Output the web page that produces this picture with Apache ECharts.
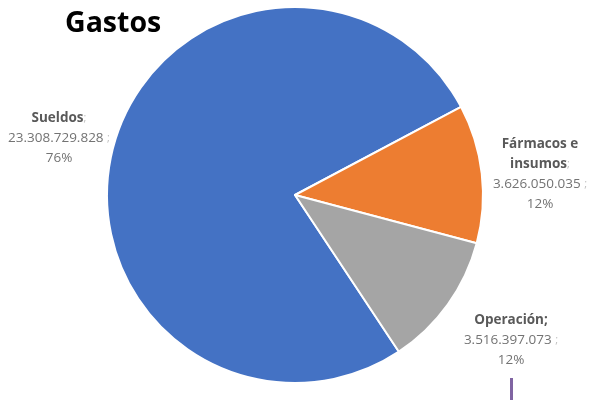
<!DOCTYPE html>
<html>
<head>
<meta charset="utf-8">
<script src="https://cdn.jsdelivr.net/npm/echarts@6/dist/echarts.min.js"></script>
<style>
html,body{margin:0;padding:0;background:#fff;}
#chart{width:594px;height:403px;}
</style>
</head>
<body>
<div id="chart"></div>
<script>
const titleText = 'Gastos';
const categories = ['Sueldos', 'Fármacos e\ninsumos', 'Operación'];
const values = [23308729828, 3626050035, 3516397073];
const pctLabels = ['76%', '12%', '12%'];
const colors = ['#4472C4', '#ED7D31', '#A5A5A5'];

const labelPos = [
  {x: 59, y: 138},
  {x: 540, y: 174},
  {x: 511, y: 340}
];

function fmt(v) {
  return String(v).replace(/\B(?=(\d{3})+(?!\d))/g, '.');
}

const chart = echarts.init(document.getElementById('chart'), null, {renderer: 'canvas'});
chart.setOption({
  animation: false,
  backgroundColor: '#ffffff',
  title: {
    text: titleText,
    left: 60,
    top: 4,
    textStyle: {fontFamily: 'Open Sans', fontWeight: 'bold', fontSize: 28.5, color: '#000000'}
  },
  graphic: [{
    type: 'rect',
    shape: {x: 510, y: 378, width: 3, height: 22},
    style: {fill: '#8064A2'}
  }],
  series: [{
    type: 'pie',
    center: [295, 195],
    radius: [0, 188],
    startAngle: -56.45,
    clockwise: true,
    itemStyle: {borderColor: '#ffffff', borderWidth: 2},
    label: {
      show: true,
      position: 'outside',
      overflow: 'none',
      width: 200,
      fontFamily: 'Open Sans',
      lineHeight: 20,
      align: 'center',
      formatter: function (p) {
        const semi = p.dataIndex === 2 ? '{n|;}' : '{s|;}';
        return '{n|' + p.name + '}' + semi + '\n{v|' + fmt(p.value) + ' }{s|;}\n{v|' + pctLabels[p.dataIndex] + '}';
      },
      rich: {
        n: {fontFamily: 'Open Sans', fontWeight: 'bold', fontSize: 13.5, color: '#595959', lineHeight: 20},
        v: {fontFamily: 'Open Sans', fontSize: 13.5, color: '#737373', lineHeight: 20},
        s: {fontFamily: 'Open Sans', fontSize: 11, color: '#BFBFBF', lineHeight: 20}
      }
    },
    labelLine: {show: false},
    labelLayout: function (params) {
      const p = labelPos[params.dataIndex];
      return {x: p.x, y: p.y, align: 'center', verticalAlign: 'middle'};
    },
    data: categories.map((c, i) => ({name: c, value: values[i], itemStyle: {color: colors[i]}}))
  }]
});
</script>
</body>
</html>
